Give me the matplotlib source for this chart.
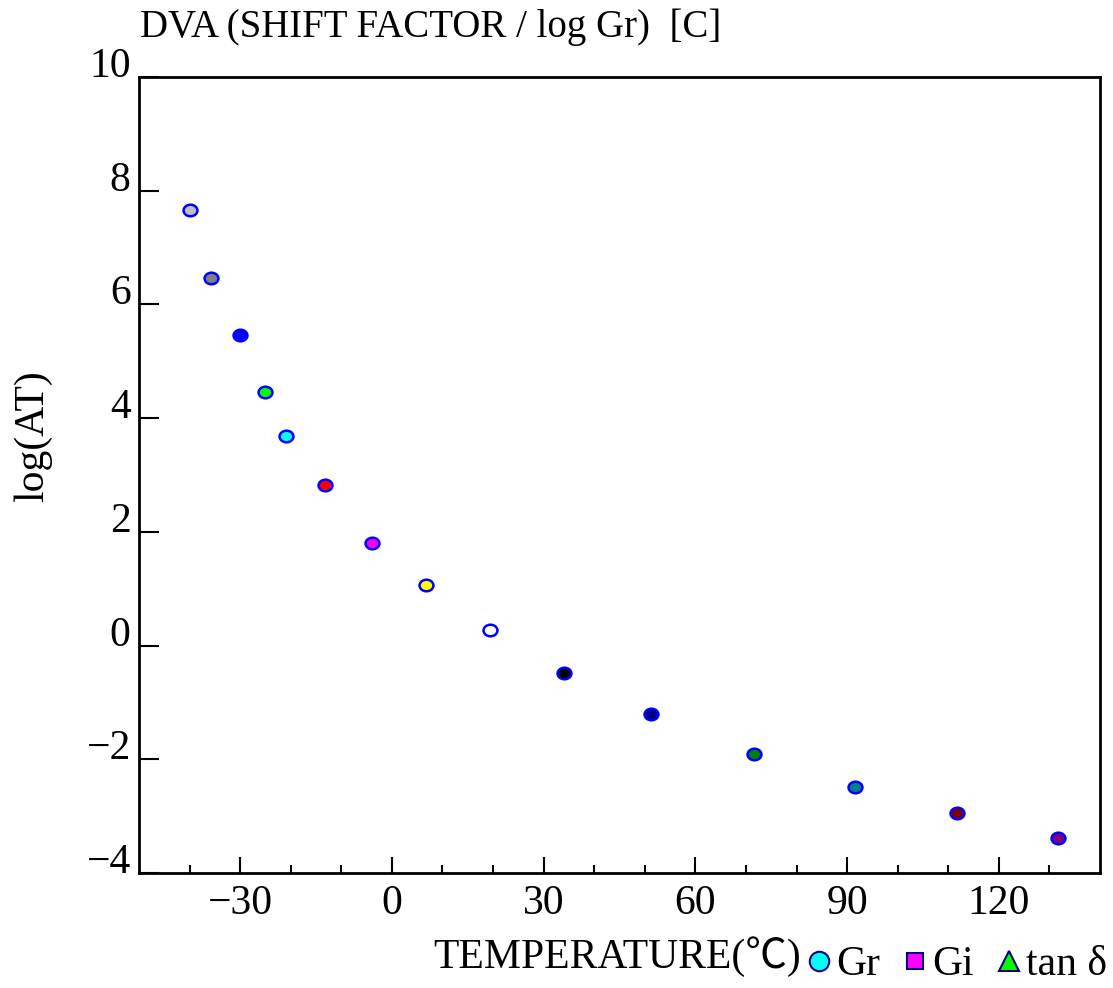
import numpy as np
import matplotlib
matplotlib.use("Agg")
import matplotlib.pyplot as plt
from matplotlib.lines import Line2D
from matplotlib.path import Path

plt.rcParams['font.family'] = ['Liberation Serif', 'Noto Sans CJK JP', 'DejaVu Serif']

# shift factor data
temperature = [-40, -35.8, -30, -25, -21, -13.2, -4, 6.7, 19.4, 34, 51.2, 71.6, 91.6, 111.7, 131.7]
log_at = [7.66, 6.47, 5.47, 4.46, 3.69, 2.83, 1.81, 1.07, 0.28, -0.49, -1.21, -1.90, -2.48, -2.95, -3.39]
point_colors = ['#c0c0c0', '#808080', '#0000ff', '#00ff00', '#00ffff', '#ff0000', '#ff00ff',
                '#ffff00', '#ffffff', '#000000', '#000080', '#008000', '#008080', '#800000', '#800080']

x_ticks = [-30, 0, 30, 60, 90, 120]
x_minor = [-40, -20, -10, 10, 20, 40, 50, 70, 80, 100, 110, 130]
y_ticks = [-4, -2, 0, 2, 4, 6, 8, 10]

# slightly wide ellipse marker
circ = Path.unit_circle()
ellipse = Path(circ.vertices * np.array([1.2, 1.0]), circ.codes)

fig = plt.figure(figsize=(11.13, 9.88), dpi=100)
ax = fig.add_axes([139 / 1113, 1 - 873 / 988, (1100 - 139) / 1113, (873 - 77) / 988])

for x, y, c in zip(temperature, log_at, point_colors):
    ax.plot(x, y, marker=ellipse, markersize=10, markerfacecolor=c,
            markeredgecolor='#0000ff', markeredgewidth=1.8, linestyle='none')

ax.set_xlim(-50, 140)
ax.set_ylim(-4, 10)
ax.set_xticks(x_ticks)
ax.set_xticks(x_minor, minor=True)
ax.set_yticks(y_ticks)
ax.set_xticklabels([str(v).replace('-', '\u2212') for v in x_ticks])
ax.set_yticklabels([str(v).replace('-', '\u2212') for v in y_ticks])

for s in ax.spines.values():
    s.set_linewidth(2)
ax.tick_params(axis='x', which='major', direction='in', length=11.5, width=1.5,
               labelsize=30, pad=8)
ax.tick_params(axis='x', which='minor', direction='in', length=6, width=1.5)
ax.tick_params(axis='y', which='major', direction='in', length=14.5, width=1.5,
               labelsize=30, pad=6)
for lab in ax.get_yticklabels():
    lab.set_verticalalignment('baseline')

ax.set_ylabel('log(AT)', fontsize=30)
ax.yaxis.set_label_coords((52 - 139) / 961, (873 - 436) / 796)
ax.set_xlabel('TEMPERATURE(℃)', fontsize=30)
ax.xaxis.set_label_coords((433 - 139) / 961, (873 - 936) / 796)
ax.xaxis.label.set_horizontalalignment('left')

fig.text(140 / 1113, 1 - 27 / 988, 'DVA (SHIFT FACTOR / log Gr)  [C]', fontsize=28,
         va='center', ha='left')

handles = [
    Line2D([], [], marker='o', linestyle='none', markersize=14, markerfacecolor='#00ffff',
           markeredgecolor='#000080', markeredgewidth=1.5),
    Line2D([], [], marker='s', linestyle='none', markersize=11, markerfacecolor='#ff00ff',
           markeredgecolor='#000080', markeredgewidth=1.5),
    Line2D([], [], marker='^', linestyle='none', markersize=14, markerfacecolor='#00ff00',
           markeredgecolor='#000080', markeredgewidth=1.5),
]
fig.legend(handles, ['Gr', 'Gi', 'tan δ'], ncol=3, frameon=False, fontsize=30,
           loc='center right', bbox_to_anchor=(1.0, 1 - 965 / 988),
           handletextpad=0.0, columnspacing=0.45, handlelength=0.8, borderpad=0.05,
           borderaxespad=0.1)

fig.savefig('out.png', dpi=100)
